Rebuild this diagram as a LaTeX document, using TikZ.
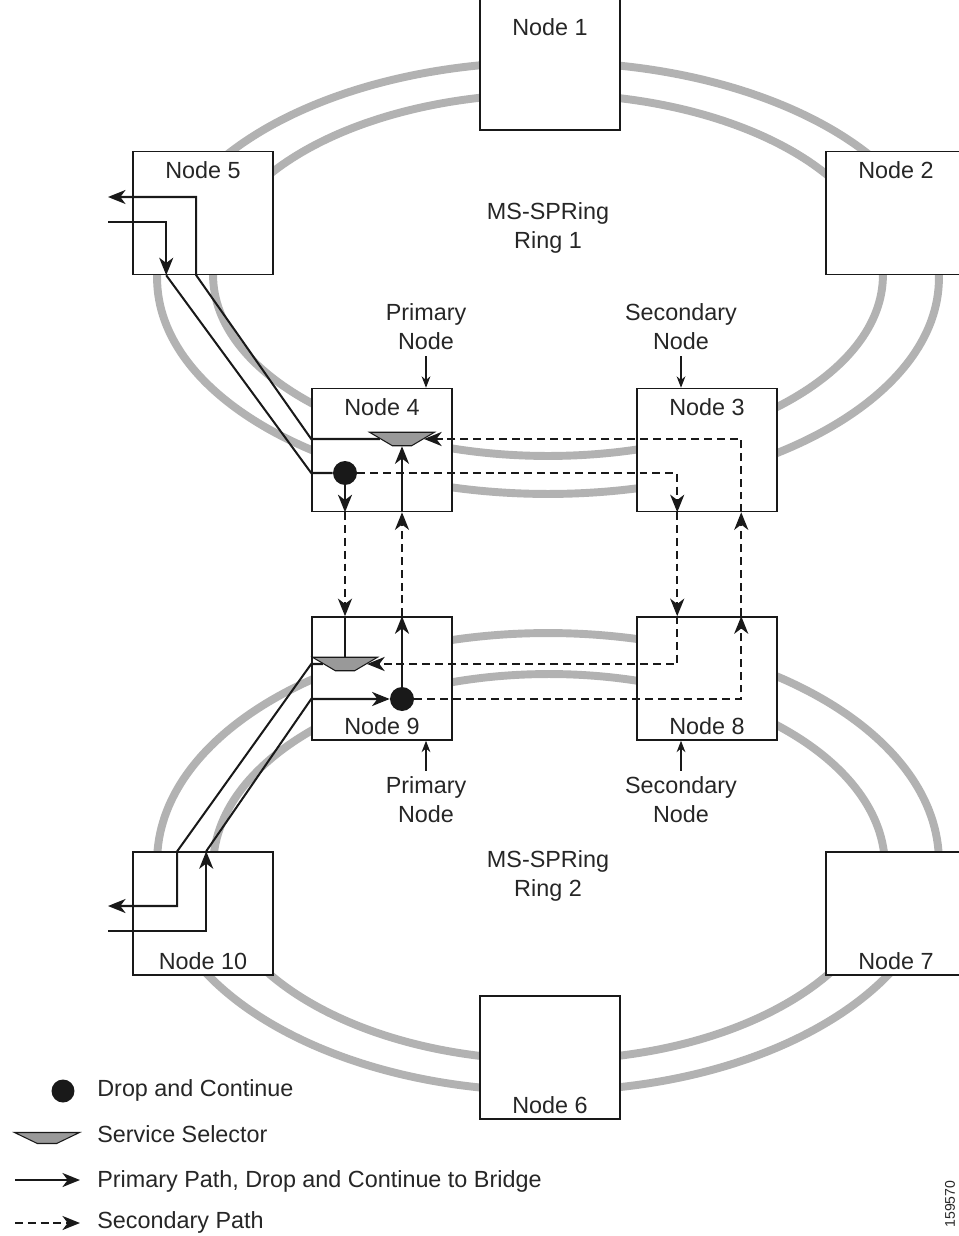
\documentclass[tikz,border=0pt]{standalone}
\usepackage{fontspec}
\setmainfont{Liberation Sans}
\usetikzlibrary{arrows.meta,shapes.geometric,calc,positioning}

\newcommand\lblfont{\fontsize{13.3}{16.4}\selectfont}

\tikzset{
  ring/.style={line width=4.5pt, draw=black!30},
  nodebox/.style={draw=black!90, line width=0.9pt, fill=white,
    minimum width=2.8cm, minimum height=2.46cm, inner sep=0pt},
  lbl/.style={inner sep=0pt, font=\lblfont, text=black!85},
  toplbl/.style={label={[lbl, anchor=north, yshift=-0.21cm]north:#1}},
  botlbl/.style={label={[lbl, anchor=south, yshift=0.12cm]south:#1}},
  dcdot/.style={circle, fill=black!90, minimum size=0.48cm, inner sep=0pt},
  selector/.style={trapezium, shape border rotate=180,
    trapezium left angle=40, trapezium right angle=40, trapezium stretches=true,
    minimum width=1.3cm, minimum height=0.27cm, inner sep=1pt,
    draw=black!90, line width=0.6pt, fill=black!40},
  prim/.style={line width=1.15pt, draw=black!90},
  sec/.style={prim, dash pattern=on 4.5pt off 2.8pt},
  note/.style={align=center, font=\lblfont, text=black!85},
  notearrow/.style={line width=0.6pt, draw=black!90, -{Stealth[length=6.5pt,width=5pt]}},
  legtext/.style={anchor=west, inner sep=0pt, font=\lblfont, text=black!85}
}

\begin{document}
\begin{tikzpicture}[x=0.02cm, y=-0.02cm, >={Stealth[length=10pt,width=8pt,inset=3pt]}]
  \useasboundingbox[fill=white] (0,0) rectangle (959,1236);

  % Rings
  \draw[ring] (548,278) ellipse [x radius=7.82cm, y radius=4.32cm];
  \draw[ring] (548,275) ellipse [x radius=6.70cm, y radius=3.62cm];
  \draw[ring] (548,862) ellipse [x radius=7.82cm, y radius=4.58cm];
  \draw[ring] (549,867) ellipse [x radius=6.72cm, y radius=3.86cm];

  % Nodes of ring 1
  \node[nodebox, minimum height=2.62cm,
    label={[lbl, anchor=north, yshift=-0.41cm]north:Node 1}] (n1) at (550,64.5) {};
  \node[nodebox, toplbl=Node 2] (n2) at (896,213) {};
  \node[nodebox, toplbl=Node 5] (n5) at (203,213) {};
  \node[nodebox, toplbl=Node 4] (n4) at (382,450) {};
  \node[nodebox, toplbl=Node 3] (n3) at (707,450) {};

  % Nodes of ring 2
  \node[nodebox, botlbl=Node 9] (n9) at (382,678.5) {};
  \node[nodebox, botlbl=Node 8] (n8) at (707,678.5) {};
  \node[nodebox, botlbl=Node 10] (n10) at (203,913.5) {};
  \node[nodebox, botlbl=Node 7] (n7) at (896,913.5) {};
  \node[nodebox, botlbl=Node 6] (n6) at (550,1057.5) {};

  % Drop and continue, service selectors
  \node[dcdot] (dc4) at (345,473) {};
  \node[selector] (ss4) at (402,439) {};
  \node[selector] (ss9) at (345,664) {};
  \node[dcdot] (dc9) at (402,699) {};

  % Primary path, ring 1
  \coordinate (in5) at (108,222);
  \coordinate (out5) at (108,197);
  \draw[prim,->] (in5) -| ($(n5.south west)+(34,0)$);
  \draw[prim] ($(n5.south west)+(34,0)$) -- (n4.west |- dc4) -- (dc4);
  \draw[prim,->] (ss4) -- (n4.west |- ss4) -- ($(n5.south west)+(64,0)$) |- (out5);
  \draw[prim,->] (dc4) -- (dc4 |- n4.south);
  \draw[prim,->] (ss4 |- n4.south) -- (ss4);

  % Between the primary nodes
  \draw[sec,->] (dc4 |- n4.south) -- (dc4 |- n9.north);
  \draw[sec,->] (dc9 |- n9.north) -- (dc9 |- n4.south);
  \draw[prim] (ss9 |- n9.north) -- (ss9);
  \draw[prim,->] (dc9) -- (dc9 |- n9.north);

  % Secondary paths through nodes 3 and 8
  \draw[sec,->] (dc4) -| ($(n3.south west)+(41,0)$);
  \draw[sec,->] ($(n3.south west)+(41,0)$) -- ($(n8.north west)+(41,0)$);
  \draw[sec,->] ($(n8.north west)+(41,0)$) |- (ss9);
  \draw[sec,->] (dc9) -| ($(n8.north west)+(105,0)$);
  \draw[sec,->] ($(n8.north west)+(105,0)$) -- ($(n3.south west)+(105,0)$);
  \draw[sec,->] ($(n3.south west)+(105,0)$) |- (ss4);

  % Primary path, ring 2
  \coordinate (out10) at (108,906);
  \coordinate (in10) at (108,931);
  \draw[prim,->] (ss9) -- (n9.west |- ss9) -- ($(n10.north west)+(45,0)$) |- (out10);
  \draw[prim,->] (in10) -| ($(n10.north west)+(74,0)$);
  \draw[prim,->] ($(n10.north west)+(74,0)$) -- (n9.west |- dc9) -- (dc9);

  % Primary / secondary node notes
  \node[note] (pn4) at (426,327) {Primary\\Node};
  \draw[notearrow] (pn4) -- (pn4 |- n4.north);
  \node[note] (sn3) at (681,327) {Secondary\\Node};
  \draw[notearrow] (sn3) -- (sn3 |- n3.north);
  \node[note] (pn9) at (426,800) {Primary\\Node};
  \draw[notearrow] (pn9) -- (pn9 |- n9.south);
  \node[note] (sn8) at (681,800) {Secondary\\Node};
  \draw[notearrow] (sn8) -- (sn8 |- n8.south);

  % Ring names
  \node[note] (r1) at (548,228) {MS-SPRing\\Ring 1};
  \node[note] (r2) at (548,876) {MS-SPRing\\Ring 2};

  % Legend
  \node[dcdot, minimum size=0.46cm] (lgdc) at (63,1091) {};
  \node[legtext] (lgdctext) at (97,1090) {Drop and Continue};
  \node[selector, minimum height=0.22cm] (lgss) at (47,1138) {};
  \node[legtext] (lgsstext) at (97,1134) {Service Selector};
  \coordinate (lgp1) at (15,1180);
  \coordinate (lgp2) at (80,1180);
  \draw[prim,->] (lgp1) -- (lgp2);
  \node[legtext] (lgptext) at (97,1181) {Primary Path, Drop and Continue to Bridge};
  \coordinate (lgs1) at (15,1223);
  \coordinate (lgs2) at (80,1223);
  \draw[sec,->] (lgs1) -- (lgs2);
  \node[legtext] (lgstext) at (97,1222) {Secondary Path};

  \node[rotate=90, inner sep=1pt, font=\fontsize{8}{9}\selectfont, text=black!85] (fignum) at (950,1204) {159570};
\end{tikzpicture}
\end{document}
